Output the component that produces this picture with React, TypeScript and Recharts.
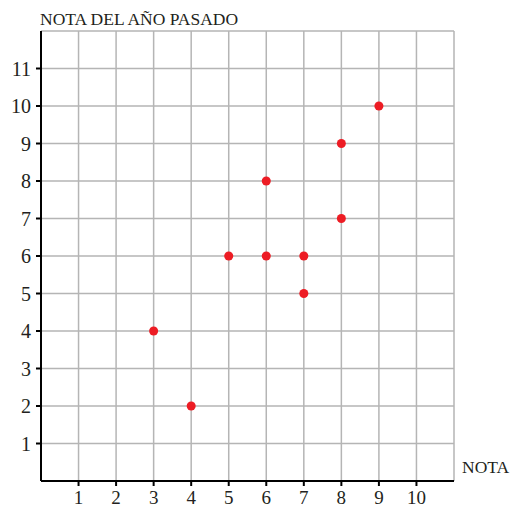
import { ScatterChart, Scatter, XAxis, YAxis, CartesianGrid } from "recharts"

const notas = [3, 4, 5, 6, 6, 7, 7, 8, 8, 9]
const notasAnoPasado = [4, 2, 6, 6, 8, 6, 5, 7, 9, 10]
const xTicks = [1, 2, 3, 4, 5, 6, 7, 8, 9, 10]
const yTicks = [1, 2, 3, 4, 5, 6, 7, 8, 9, 10, 11]
const xGrid = [1, 2, 3, 4, 5, 6, 7, 8, 9, 10, 11]
const yGrid = [1, 2, 3, 4, 5, 6, 7, 8, 9, 10, 11, 12]

const data = notas.map((x, i) => ({ x, y: notasAnoPasado[i] }))

const FONT = "'Liberation Serif', 'DejaVu Serif', serif"
const TEXT = "#231f20"

function XTick({ x, y, payload }: any) {
  return (
    <g>
      <line x1={x} x2={x} y1={y - 2} y2={y + 3} stroke="#000" strokeWidth={2} />
      <text x={x} y={y + 21} textAnchor="middle" fontFamily={FONT} fontSize={19} fill={TEXT}>
        {payload.value}
      </text>
    </g>
  )
}

function YTick({ x, y, payload }: any) {
  return (
    <g>
      <line x1={x - 3} x2={x + 3} y1={y} y2={y} stroke="#000" strokeWidth={2} />
      <text x={x - 8} y={y + 7} textAnchor="end" fontFamily={FONT} fontSize={20} fill={TEXT}>
        {payload.value}
      </text>
    </g>
  )
}

export default function App() {
  return (
    <div style={{ position: "absolute", left: 0, top: 0, width: 513, height: 508, background: "#fff" }}>
      <ScatterChart width={513} height={508} margin={{ top: 31, right: 59, bottom: 0, left: 0 }}>
        <CartesianGrid
          stroke="#b5b5b5"
          strokeWidth={1.5}
          verticalValues={xGrid}
          horizontalValues={yGrid}
        />
        <XAxis
          type="number"
          dataKey="x"
          domain={[0, 11]}
          ticks={xTicks}
          height={27}
          tickSize={0}
          tickLine={false}
          axisLine={{ stroke: "#000", strokeWidth: 2 }}
          tick={<XTick />}
          interval={0}
          label={({ viewBox }: any) => (
            <text
              x={viewBox.x + viewBox.width + 8}
              y={viewBox.y - 8}
              fontFamily={FONT}
              fontSize={17.5}
              fill={TEXT}
            >
              NOTA
            </text>
          )}
        />
        <YAxis
          type="number"
          dataKey="y"
          domain={[0, 12]}
          ticks={yTicks}
          width={41}
          tickSize={0}
          tickLine={false}
          axisLine={{ stroke: "#000", strokeWidth: 2 }}
          tick={<YTick />}
          interval={0}
          label={({ viewBox }: any) => (
            <text x={viewBox.x + 40} y={viewBox.y - 6} fontFamily={FONT} fontSize={17.5} fill={TEXT}>
              NOTA DEL AÑO PASADO
            </text>
          )}
        />
        <Scatter data={data} fill="#ed1c24" isAnimationActive={false} />
      </ScatterChart>
    </div>
  )
}
